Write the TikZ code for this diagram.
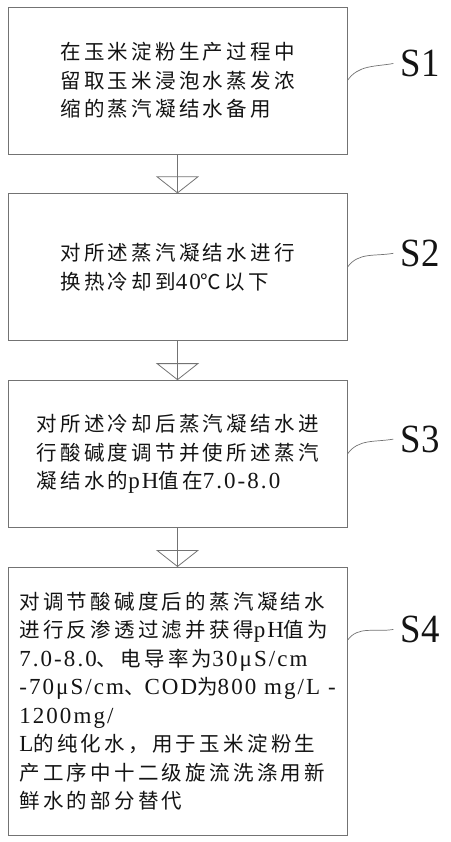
\documentclass[tikz,border=0pt]{standalone}
\usepackage{fontspec}
\usepackage{tikz}
\usetikzlibrary{arrows.meta, positioning}
\newfontfamily\cjk[LetterSpace=16]{Noto Sans CJK SC}
\newfontfamily\enfont[LetterSpace=9]{Liberation Serif}
\newfontfamily\labfont[FakeStretch=0.92]{Liberation Serif}
\newcommand{\en}[1]{{\enfont\fontsize{23}{28.5}\selectfont #1}}

\begin{document}
\begin{tikzpicture}[
    x=1pt, y=1pt,
    node distance=39pt and 53pt,
    stepbox/.style={rectangle, draw=black!55, line width=0.8pt, minimum width=339pt, minimum height=147pt, align=left, text=black!92, font=\cjk\fontsize{20.5}{28.5}\selectfont},
    lab/.style={font=\labfont\fontsize{40}{40}\selectfont, anchor=west, inner sep=0pt, text=black!92},
    flow/.style={draw=black!55, line width=0.8pt, postaction={draw=black!55, -{Triangle[open, length=17pt, width=43pt]}}},
    leader/.style={draw=black!55, line width=0.7pt}
  ]
    \useasboundingbox (0,0) rectangle (450,-842);

    % Steps
    \node[stepbox] (b1) at (177.5,-80.5) {在玉米淀粉生产过程中\\留取玉米浸泡水蒸发浓\\缩的蒸汽凝结水备用};
    \node[stepbox, below=of b1] (b2) {对所述蒸汽凝结水进行\\换热冷却到\en{40}℃以下};
    \node[stepbox, below=of b2] (b3) {对所述冷却后蒸汽凝结水进\\行酸碱度调节并使所述蒸汽\\凝结水的\en{pH}值在\en{7.0-8.0}};
    \node[stepbox, below=of b3, minimum height=268pt] (b4) {对调节酸碱度后的蒸汽凝结水\\进行反渗透过滤并获得\en{pH}值为\\\en{7.0-8.0}、电导率为\en{30μS/cm}\\\en{-70μS/cm}、\en{COD}为\en{800 mg/L -}\\\en{1200mg/}\\\en{L}的纯化水，用于玉米淀粉生\\产工序中十二级旋流洗涤用新\\鲜水的部分替代};

    % Step labels
    \node[lab, right=53pt of b1.east, yshift=17pt] (s1) {S1};
    \node[lab, right=53pt of b2.east, yshift=14pt] (s2) {S2};
    \node[lab, right=53pt of b3.east, yshift=15pt] (s3) {S3};
    \node[lab, right=53pt of b4.east, yshift=72pt] (s4) {S4};

    % Arrows
    \draw[flow] (b1) -- (b2);
    \draw[flow] (b2) -- (b3);
    \draw[flow] (b3) -- (b4);

    % Leaders
    \draw[leader] (b1.east) to[out=55, in=190] ([xshift=-7pt]s1.west);
    \draw[leader] (b2.east) to[out=55, in=190] ([xshift=-7pt]s2.west);
    \draw[leader] (b3.east) to[out=55, in=190] ([xshift=-7pt]s3.west);
    \draw[leader] ([yshift=61pt]b4.east) to[out=55, in=190] ([xshift=-7pt]s4.west);
  \end{tikzpicture}
\end{document}
